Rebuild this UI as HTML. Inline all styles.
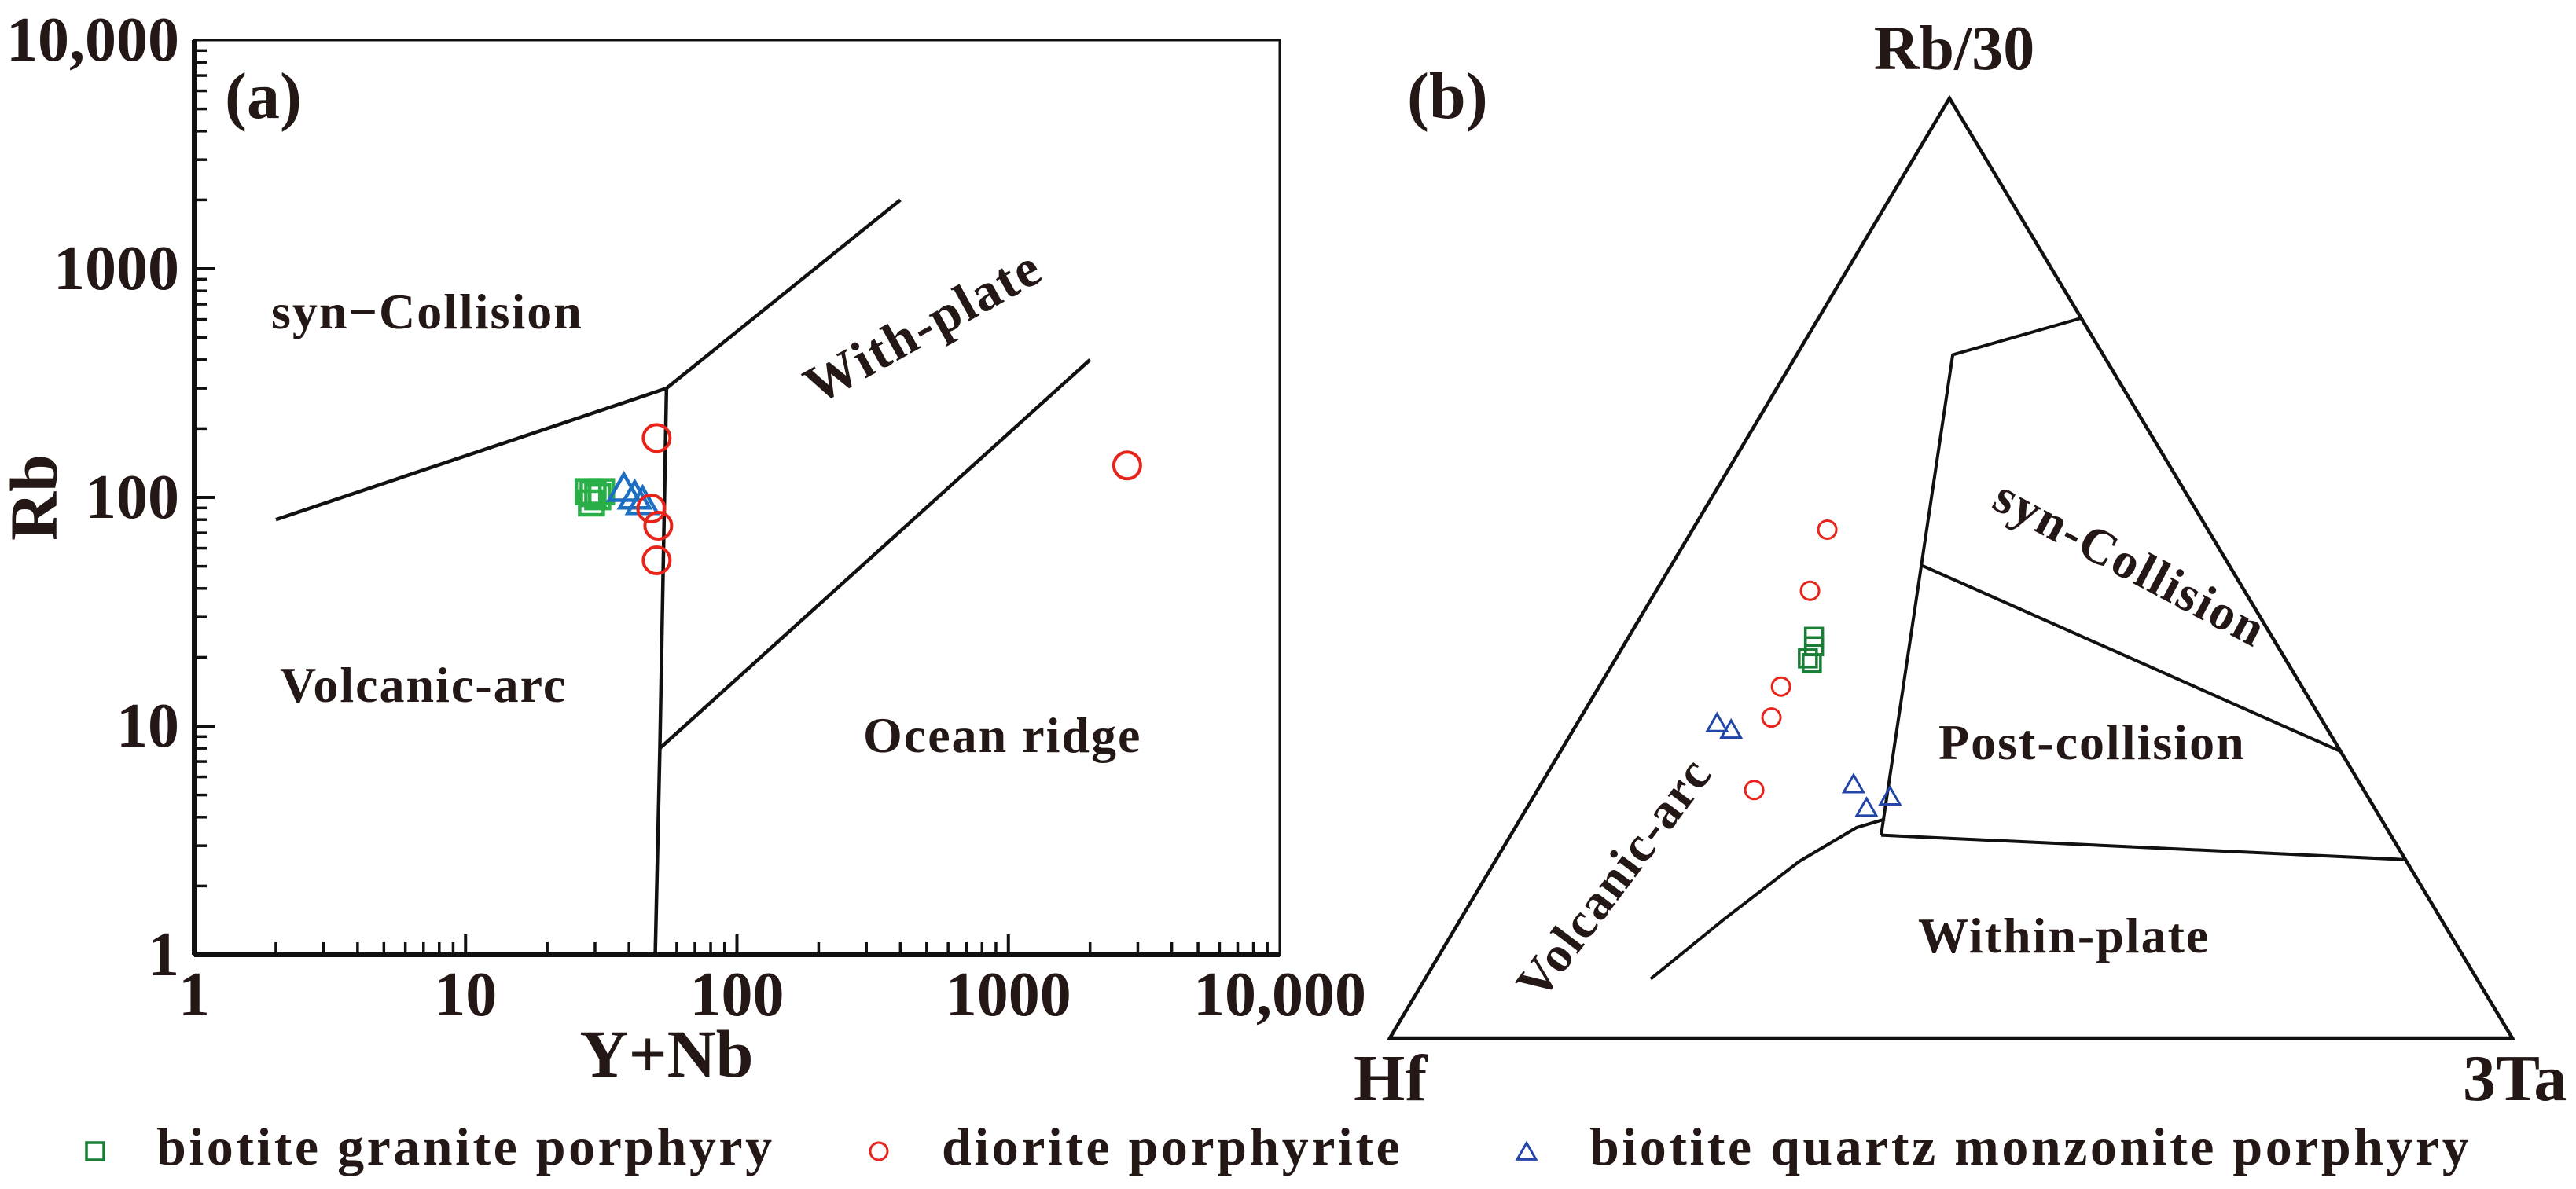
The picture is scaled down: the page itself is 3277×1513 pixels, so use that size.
<!DOCTYPE html>
<html><head><meta charset="utf-8"><style>
html,body{margin:0;padding:0;background:#fff}
svg{display:block}
text{font-family:"Liberation Serif",serif;font-weight:bold;fill:#231815}
</style></head><body>
<svg id="fig" width="3277" height="1513" viewBox="0 0 3277 1513" xmlns="http://www.w3.org/2000/svg">
<g id="pa"></g>
<g id="pb"></g>
<g id="lg"></g>
</svg>
<script>
// ---------- Panel (a) data ----------
const xTickLabels = ["1","10","100","1000","10,000"];
const yTickLabels = ["1","10","100","1000","10,000"];
const graniteYNb = [28.3, 31.7, 29.1, 30.7, 29.5];
const graniteRb  = [106, 106, 94.6, 100.7, 104];
const dioriteYNb = [50.6, 48.3, 51.3, 50.6, 2740];
const dioriteRb  = [182, 89.5, 75.2, 53.1, 138];
const monzYNb = [38.3, 42, 44.9];
const monzRb  = [108, 100, 94.6];
const synColX = [2, 55, 400];
const synColY = [80, 300, 2000];
const vagBoundX = [55, 52, 50];
const vagBoundY = [300, 8, 1];
const orgBoundX = [52, 2000];
const orgBoundY = [8, 400];

// ---------- Panel (b) data (fractions: Rb/30, Hf, 3Ta) ----------
const dioriteRbT = [0.541, 0.476, 0.374, 0.341, 0.264];
const dioriteTaT = [0.120, 0.137, 0.162, 0.170, 0.193];
const graniteRbT = [0.427, 0.417, 0.404, 0.399];
const graniteTaT = [0.165, 0.170, 0.171, 0.177];
const monzRbT = [0.334, 0.327, 0.269, 0.244, 0.256];
const monzTaT = [0.125, 0.141, 0.279, 0.303, 0.318];
const bSynRb = [0.766, 0.727, 0.216];
const bSynTa = [0.234, 0.139, 0.330];
const bPostRb = [0.503, 0.305];
const bPostTa = [0.223, 0.695];
const bWpRb = [0.216, 0.190];
const bWpTa = [0.330, 0.809];
const bVagRb = [0.063, 0.127, 0.188, 0.224, 0.233];
const bVagTa = [0.201, 0.235, 0.271, 0.304, 0.325];

const NS="http://www.w3.org/2000/svg";
function mk(tag, attrs, parent, txt){const e=document.createElementNS(NS,tag);for(const k in attrs)e.setAttribute(k,attrs[k]);if(txt!==undefined)e.textContent=txt;parent.appendChild(e);return e;}

const L=247,R=1628,T=51,B=1215;
const X=v=>L+(R-L)/4*Math.log10(v);
const Y=v=>B-(B-T)/4*Math.log10(v);
const pa=document.getElementById('pa');
const frame=mk('rect',{x:L,y:T,width:R-L,height:B-T,fill:'none',stroke:'#111','stroke-width':3},pa);


mk('line',{x1:L,y1:B,x2:R,y2:B,stroke:'#111','stroke-width':6},pa);
mk('line',{x1:L,y1:T,x2:L,y2:B,stroke:'#111','stroke-width':6},pa);
for(let d=0;d<4;d++){for(let m=2;m<=9;m++){const v=Math.pow(10,d)*m;
 mk('line',{x1:X(v),y1:B,x2:X(v),y2:B-16,stroke:'#111','stroke-width':3.5},pa);
 mk('line',{x1:L,y1:Y(v),x2:L+16,y2:Y(v),stroke:'#111','stroke-width':3.5},pa);}}
for(let d=1;d<4;d++){const v=Math.pow(10,d);
 mk('line',{x1:X(v),y1:B,x2:X(v),y2:B-26,stroke:'#111','stroke-width':4},pa);
 mk('line',{x1:L,y1:Y(v),x2:L+26,y2:Y(v),stroke:'#111','stroke-width':4},pa);}
xTickLabels.forEach((t,i)=>{const e=mk('text',{x:X(Math.pow(10,i)),y:1292,'text-anchor':'middle','font-size':80},pa,t);
 
 });
yTickLabels.forEach((t,i)=>{const e=mk('text',{x:228,y:Y(Math.pow(10,i))+26,'text-anchor':'end','font-size':80},pa,t);
 
 });
let e;
e=mk('text',{x:848,y:1370,'text-anchor':'middle','font-size':86},pa,'Y+Nb');

e=mk('text',{x:0,y:0,'text-anchor':'middle','font-size':86,transform:'translate(72,633) rotate(-90)'},pa,'Rb');

e=mk('text',{x:286,y:150,'font-size':84},pa,'(a)');

function poly(xs,ys,fx,fy,parent,name){const p=xs.map((v,i)=>fx(v)+','+fy(ys[i])).join(' ');const el=mk('polyline',{points:p,fill:'none',stroke:'#111','stroke-width':4.5,'stroke-linejoin':'miter'},parent);return el;}
poly(synColX,synColY,X,Y,pa,'syn-collision-boundary');
poly(vagBoundX,vagBoundY,X,Y,pa,'volcanic-arc-boundary');
poly(orgBoundX,orgBoundY,X,Y,pa,'ocean-ridge-boundary');
[['syn−Collision',345,418],['Volcanic-arc',356,893],['Ocean ridge',1098,957]].forEach(a=>{
 const t=mk('text',{x:a[1],y:a[2],'font-size':64,'letter-spacing':2},pa,a[0]);
 
 });
e=mk('text',{x:0,y:0,'text-anchor':'middle','font-size':68,'letter-spacing':2,transform:'translate(1185,435) rotate(-29)'},pa,'With-plate');


function sq(g,cx,cy,s,c,w){return mk('rect',{x:cx-s/2,y:cy-s/2,width:s,height:s,fill:'none',stroke:c,'stroke-width':w},g);}
function ci(g,cx,cy,r,c,w){return mk('circle',{cx:cx,cy:cy,r:r,fill:'none',stroke:c,'stroke-width':w},g);}
function tri(g,cx,cy,s,c,w){const h=s*0.87;return mk('polygon',{points:`${cx},${cy-h*0.6} ${cx-s/2},${cy+h*0.4} ${cx+s/2},${cy+h*0.4}`,fill:'none',stroke:c,'stroke-width':w},g);}

graniteYNb.forEach((v,i)=>{const m=sq(pa,X(v),Y(graniteRb[i]),30,'#2aae48',4.5);
 
 });
monzYNb.forEach((v,i)=>{const m=tri(pa,X(v),Y(monzRb[i]),38,'#1e6fc2',4.5);
 
 });
dioriteYNb.forEach((v,i)=>{const m=ci(pa,X(v),Y(dioriteRb[i]),17,'#e8231a',4);
 
 });

const pb=document.getElementById('pb');
const Ap=[2480,125],Hp=[1768,1321],Tp=[3196,1321];
function tp(a,c){const b=1-a-c;return [b*Hp[0]+c*Tp[0]+a*Ap[0], b*Hp[1]+c*Tp[1]+a*Ap[1]];}
e=mk('polygon',{points:`${Ap} ${Hp} ${Tp}`,fill:'none',stroke:'#111','stroke-width':4.5},pb);

function tpoly(as,cs,name){const p=as.map((a,i)=>tp(a,cs[i]).join(',')).join(' ');const el=mk('polyline',{points:p,fill:'none',stroke:'#111','stroke-width':4,'stroke-linejoin':'round'},pb);}
tpoly(bSynRb,bSynTa,'syn-collision-boundary');
tpoly(bPostRb,bPostTa,'post-collision-boundary');
tpoly(bWpRb,bWpTa,'within-plate-boundary');
tpoly(bVagRb,bVagTa,'volcanic-arc-boundary');
[['Rb/30',2486,88,'middle',80,'apex-label'],['(b)',1790,150,'start',84,'panel-b-label'],['Hf',1722,1400,'start',84,'hf-label'],['3Ta',3133,1400,'start',84,'ta-label'],
 ['Post-collision',2466,966,'start',64,'region-label'],['Within-plate',2440,1212,'start',64,'region-label']].forEach(a=>{
 const t=mk('text',{x:a[1],y:a[2],'text-anchor':a[3],'font-size':a[4],'letter-spacing':a[4]<70?2:0},pb,a[0]);
 
 });
e=mk('text',{x:0,y:0,'text-anchor':'middle','font-size':64,'letter-spacing':2,transform:'translate(2700,735) rotate(28)'},pb,'syn-Collision');

e=mk('text',{x:0,y:0,'text-anchor':'middle','font-size':64,'letter-spacing':2,transform:'translate(2070,1130) rotate(-53)'},pb,'Volcanic-arc');

graniteRbT.forEach((a,i)=>{const p=tp(a,graniteTaT[i]);const m=sq(pb,p[0],p[1],22,'#1a7e36',3.5);
 
 });
dioriteRbT.forEach((a,i)=>{const p=tp(a,dioriteTaT[i]);const m=ci(pb,p[0],p[1],11.5,'#e8231a',3);
 
 });
monzRbT.forEach((a,i)=>{const p=tp(a,monzTaT[i]);const m=tri(pb,p[0],p[1],25,'#2245a8',3);
 
 });

const lg=document.getElementById('lg');
const ly=1465;
e=sq(lg,121,ly,22,'#1a7e36',3.5);
e=ci(lg,1118,ly,11,'#e8231a',3);
e=tri(lg,1942,ly+2,24,'#2245a8',3);
e=mk('text',{x:199,y:1482,'font-size':68,'letter-spacing':3.5},lg,'biotite granite porphyry');
e=mk('text',{x:1198,y:1482,'font-size':68,'letter-spacing':3.5},lg,'diorite porphyrite');
e=mk('text',{x:2022,y:1482,'font-size':68,'letter-spacing':3.5},lg,'biotite quartz monzonite porphyry');
</script>
</body></html>
